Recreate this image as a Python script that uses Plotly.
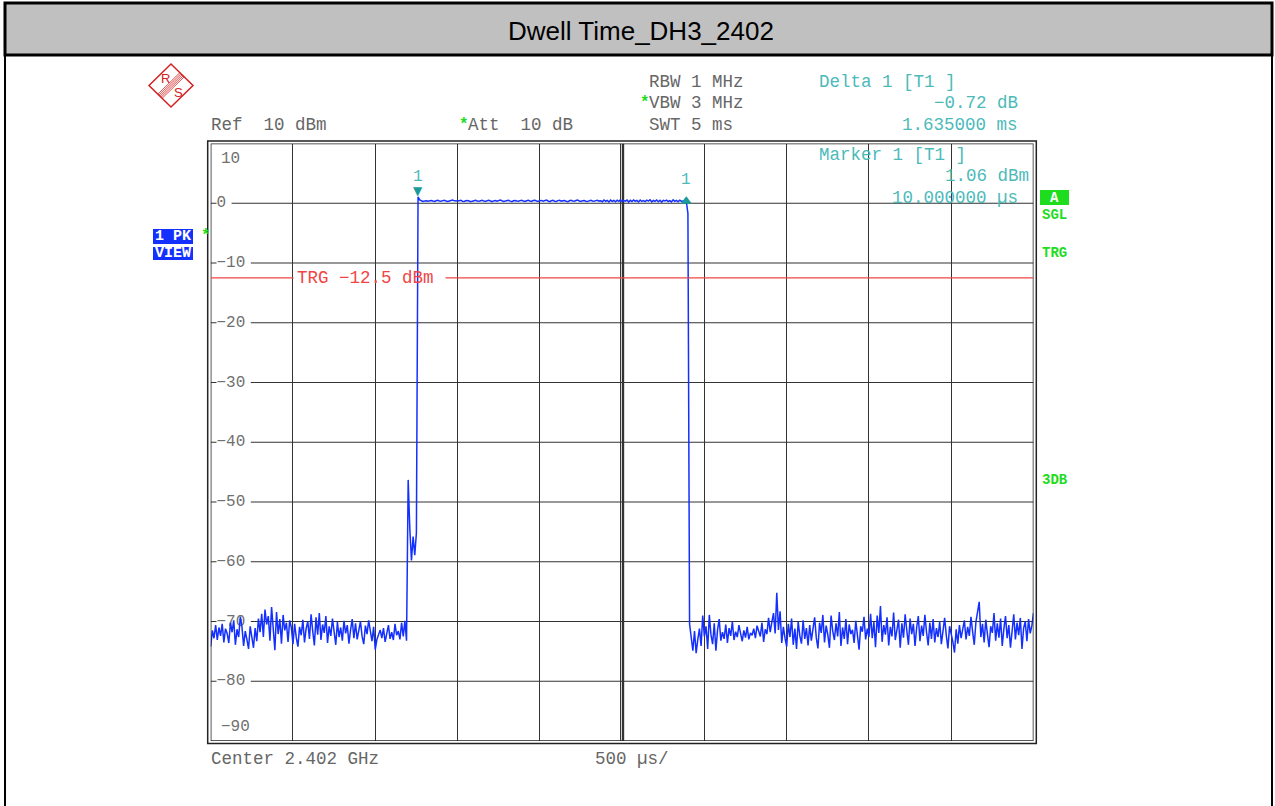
import numpy as np
import plotly.graph_objects as go

W, H = 1275, 806

# sweep settings (SWT 5 ms, 500 µs/div, 501 trace points)
sweep_ms = 5.0
n_points = 501

# trace values in dBm, left to right
noise_left = [
    -74.2, -71.5, -72.8, -70.6, -73.1, -71.0, -72.4, -70.4, -73.5, -71.2,
    -72.0, -73.6, -70.2, -71.8, -69.8, -73.9, -71.3, -72.6, -69.2, -70.9,
    -74.1, -71.6, -73.0, -74.6, -70.8, -72.9, -74.4, -71.1, -73.3, -69.5,
    -71.8, -68.7, -72.6, -68.0, -70.5, -69.1, -73.2, -67.6, -71.4, -74.8,
    -68.4, -72.1, -69.6, -73.7, -68.9, -71.5, -70.2, -73.4, -69.8, -71.0,
    -73.8, -70.4, -72.7, -74.2, -70.9, -72.3, -69.7, -73.5, -71.2, -70.0,
    -72.9, -68.8, -71.6, -74.0, -69.3, -72.2, -68.6, -73.1, -70.5, -71.9,
    -69.1, -73.6, -70.8, -72.4, -69.5, -71.3, -73.9, -70.1, -72.6, -71.0,
    -73.2, -69.9, -72.0, -70.6, -73.7, -71.4, -69.6, -72.8, -70.3, -73.0,
    -71.7, -70.0, -72.5, -73.8, -70.7, -72.1, -69.8, -71.5, -73.3, -70.9,
    -74.7, -73.0, -72.2, -71.4, -72.8, -71.1, -73.4, -72.0, -70.6, -72.9,
    -71.8, -73.1, -70.4, -72.3, -71.6, -73.0, -70.2, -72.5, -69.9, -73.2,
]
burst_edge = [-46.3, -54.5, -59.8, -55.8, -58.9, -55.2]
marker1_level = 1.06
pulse_top = [
    0.55, 0.38, 0.31, 0.36, 0.42, 0.33, 0.40, 0.45, 0.37, 0.30,
    0.41, 0.48, 0.39, 0.34, 0.44, 0.50, 0.36, 0.29, 0.38, 0.46,
    0.52, 0.40, 0.33, 0.37, 0.43, 0.49, 0.35, 0.30, 0.42, 0.47,
    0.38, 0.26, 0.35, 0.44, 0.51, 0.39, 0.32, 0.41, 0.48, 0.36,
    0.30, 0.43, 0.50, 0.37, 0.28, 0.40, 0.46, 0.34, 0.39, 0.53,
    0.41, 0.31, 0.36, 0.45, 0.49, 0.35, 0.27, 0.42, 0.47, 0.38,
    0.33, 0.44, 0.50, 0.36, 0.29, 0.41, 0.48, 0.39, 0.32, 0.45,
    0.51, 0.37, 0.30, 0.43, 0.47, 0.34, 0.40, 0.52, 0.38, 0.28,
    0.42, 0.49, 0.35, 0.31, 0.44, 0.50, 0.36, 0.40, 0.46, 0.33,
    0.27, 0.41, 0.48, 0.39, 0.34, 0.45, 0.53, 0.37, 0.30, 0.43,
    0.47, 0.35, 0.29, 0.40, 0.51, 0.38, 0.32, 0.44, 0.49, 0.36,
    0.41, 0.26, 0.55, 0.33, 0.48, 0.22, 0.52, 0.30, 0.46, 0.25,
    0.50, 0.31, 0.57, 0.24, 0.45, 0.35, 0.53, 0.20, 0.49, 0.28,
    0.56, 0.33, 0.47, 0.21, 0.54, 0.30, 0.44, 0.27, 0.51, 0.35,
    0.58, 0.23, 0.46, 0.32, 0.55, 0.26, 0.50, 0.19, 0.48, 0.37,
    0.53, 0.29, 0.45, 0.22, 0.57, 0.31, 0.49, 0.25, 0.52, 0.34,
    0.40, 0.36,
]
delta_level = 0.34
fall_edge = [-1.7]
noise_right = [
    -70.4, -72.8, -74.9, -71.6, -75.3, -73.0, -71.2, -74.1, -69.0, -72.5,
    -70.8, -74.6, -68.9, -72.2, -73.8, -70.3, -74.9, -71.4, -69.6, -73.2,
    -71.8, -72.9, -70.5, -73.6, -71.1, -72.4, -70.0, -73.1, -71.7, -72.6,
    -70.6, -72.0, -73.3, -71.5, -72.7, -70.9, -73.0, -71.9, -72.3, -71.2,
    -72.8, -70.7, -71.6, -72.5, -70.2, -73.4, -71.3, -72.1, -69.4, -71.8,
    -70.1, -68.6, -72.0, -65.2, -71.4, -68.3, -73.6, -70.9, -72.8, -74.2,
    -70.4, -72.6, -69.5, -73.9, -71.2, -74.6, -70.0, -72.4, -73.7, -69.8,
    -72.9, -71.1, -74.0, -70.6, -73.2, -71.5, -69.3, -72.7, -74.5, -70.2,
    -71.9, -68.9, -73.5, -70.7, -72.2, -74.4, -69.0, -71.6, -73.1, -70.3,
    -72.5, -68.4, -74.1, -71.0, -72.9, -69.6, -73.8, -70.5, -72.1, -71.4,
    -73.6, -69.9, -72.3, -74.7, -70.8, -71.7, -69.2, -73.0, -71.2, -72.6,
    -68.7, -72.8, -70.1, -74.3, -69.0, -71.9, -67.4, -73.4, -70.6, -72.2,
    -69.3, -74.0, -70.9, -72.5, -68.5, -73.1, -71.4, -69.7, -74.4, -70.3,
    -72.7, -68.8, -71.5, -73.9, -69.5, -72.1, -70.4, -74.1, -71.0, -69.1,
    -73.3, -70.7, -72.4, -68.9, -71.8, -74.0, -70.2, -72.9, -69.6, -73.5,
    -71.1, -72.6, -70.0, -73.8, -71.6, -69.4, -72.3, -74.5, -70.8, -72.0,
    -73.4, -75.2, -71.3, -73.7, -70.6, -72.8, -71.5, -69.8, -73.0, -70.9,
    -72.4, -69.2, -71.7, -73.9, -70.1, -68.3, -66.7, -72.6, -70.4, -73.5,
    -69.7, -72.1, -74.3, -70.8, -71.9, -68.6, -73.2, -70.3, -72.7, -69.5,
    -74.1, -71.2, -69.1, -72.8, -70.6, -74.4, -71.5, -68.8, -73.0, -70.2,
    -72.3, -69.4, -74.6, -71.1, -70.0, -73.3, -69.6, -72.0, -70.7, -68.6,
]

y_ticks = [10, 0, -10, -20, -30, -40, -50, -60, -70, -80, -90]
trg_level = -12.5

level = noise_left + burst_edge + [marker1_level] + pulse_top + [delta_level] + fall_edge + noise_right
t_ms = np.linspace(0, sweep_ms, n_points)
i_m1 = len(noise_left) + len(burst_edge)
i_d1 = i_m1 + 1 + len(pulse_top)

# pixel geometry of the screen copy
X0, X1 = 210.7, 1033.5
Y0, Y1 = 143.5, 741.0


def px(x):
    return x / W


def py(y):
    return 1 - y / H


def t_at(x):
    return (x - X0) / (X1 - X0) * sweep_ms


MONO = "Liberation Mono"
GREY = "#666666"
TEAL = "#4cbaba"
GREEN = "#1edc1e"
BLUE = "#1430ff"
RED = "#f04444"
GRID = "#333333"
LOGO = "#d42020"

fig = go.Figure()

# y tick labels (drawn under the trace)
inner = [v for v in y_ticks if v not in (10, -90)]
lab = lambda v: ("\u2212" + str(-v)) if v < 0 else str(v)
fig.add_trace(go.Scatter(
    x=[t_at(216.5)] * len(inner), y=inner, mode="text",
    text=[lab(v) for v in inner], textposition="middle right",
    textfont=dict(family=MONO, size=16, color="#707070"),
    hoverinfo="skip", showlegend=False))

fig.add_trace(go.Scatter(
    x=t_ms, y=level, mode="lines",
    line=dict(color=BLUE, width=1.5),
    hoverinfo="skip", showlegend=False))

# delta marker
fig.add_trace(go.Scatter(
    x=[t_ms[i_d1]], y=[level[i_d1]], mode="markers",
    marker=dict(symbol="triangle-up", size=10, color="#1a9a9a"),
    hoverinfo="skip", showlegend=False))

shapes = []
# title band and page frame
shapes.append(dict(type="rect", xref="paper", yref="paper", x0=px(5), x1=px(1272), y0=py(3), y1=py(55),
                   fillcolor="#c0c0c0", line=dict(color="black", width=3)))
for xx in (5, 1272):
    shapes.append(dict(type="line", xref="paper", yref="paper", x0=px(xx), x1=px(xx), y0=py(55), y1=py(820),
                       line=dict(color="black", width=2)))
# plot frame, double line
shapes.append(dict(type="rect", xref="x", yref="y", x0=0, x1=sweep_ms, y0=-90, y1=10,
                   line=dict(color="#222222", width=1.5)))
shapes.append(dict(type="rect", xref="paper", yref="paper", x0=px(207.7), x1=px(1036.3), y0=py(743.5), y1=py(141),
                   line=dict(color="#222222", width=1.5)))
# double centre line
for dx in (-0.009, 0.009):
    shapes.append(dict(type="line", xref="x", yref="y", x0=2.5 + dx, x1=2.5 + dx, y0=-90, y1=10,
                       line=dict(color=GRID, width=1.2), layer="below"))
# horizontal grid, broken where the level labels sit
for v in inner:
    shapes.append(dict(type="line", xref="x", yref="y", x0=0, x1=t_at(216.5), y0=v, y1=v,
                       line=dict(color=GRID, width=1.2), layer="below"))
    shapes.append(dict(type="line", xref="x", yref="y", x0=t_at(219 + len(lab(v)) * 9.6 + 3), x1=sweep_ms,
                       y0=v, y1=v, line=dict(color=GRID, width=1.2), layer="below"))
# trigger level line
shapes.append(dict(type="line", xref="x", yref="y", x0=0, x1=t_at(293.5), y0=trg_level, y1=trg_level,
                   line=dict(color=RED, width=1.2)))
shapes.append(dict(type="line", xref="x", yref="y", x0=t_at(445.5), x1=sweep_ms, y0=trg_level, y1=trg_level,
                   line=dict(color=RED, width=1.2)))

# R&S logo
cx, cy = 171, 85.5
shapes.append(dict(type="path", xref="paper", yref="paper",
                   path="M {},{} L {},{} L {},{} L {},{} Z".format(px(149), py(cy), px(cx), py(64),
                                                                 px(193), py(cy), px(cx), py(107)),
                   line=dict(color=LOGO, width=1.5)))
for d in (-3, -1.5, 0, 1.5, 3):
    o = d / 1.414
    shapes.append(dict(type="line", xref="paper", yref="paper",
                       x0=px(160 + o), y0=py(96.2 + o), x1=px(182 + o), y1=py(74.8 + o),
                       line=dict(color=LOGO, width=0.8)))

ann = []


def txt(s, x, y, color=GREY, size=17.5, anchor="left", bold=False, family=MONO, **kw):
    if bold:
        s = "<b>" + s + "</b>"
    ann.append(dict(text=s, x=px(x), y=py(y), xref="paper", yref="paper", xanchor=anchor, yanchor="middle",
                    showarrow=False, borderpad=0, borderwidth=0,
                    font=dict(family=family, size=size, color=color), **kw))


txt("Dwell Time_DH3_2402", 641, 31, color="black", size=26, anchor="center", family="Liberation Sans")
txt("R", 165.5, 79, color=LOGO, size=13, anchor="center", family="Liberation Sans")
txt("S", 178.5, 92.5, color=LOGO, size=13, anchor="center", family="Liberation Sans")

txt("RBW 1 MHz", 649, 82)
txt("VBW 3 MHz", 649, 103)
txt("SWT 5 ms", 649, 125)
txt("*", 640, 103, color=GREEN, size=16, bold=True)
txt("Ref  10 dBm", 211, 125)
txt("Att  10 dB", 468, 125)
txt("*", 459, 125, color=GREEN, size=16, bold=True)

txt("Delta 1 [T1 ]", 819, 82, color=TEAL)
txt("\u22120.72 dB", 1018, 103, color=TEAL, anchor="right")
txt("1.635000 ms", 1018, 125, color=TEAL, anchor="right")
txt("Marker 1 [T1 ]", 819, 155, color=TEAL)
txt("1.06 dBm", 1029, 176, color=TEAL, anchor="right")
txt("10.000000 \u00b5s", 1018, 198, color=TEAL, anchor="right")

txt("TRG \u221212.5 dBm", 296.5, 278, color=RED)
txt("Center 2.402 GHz", 211, 759)
txt("500 \u00b5s/", 595, 759)

txt("1 PK", 173, 236.5, color="white", size=15, anchor="center", bold=True,
    bgcolor=BLUE, width=40, height=15)
txt("VIEW", 173, 254, color="white", size=15, anchor="center", bold=True,
    bgcolor=BLUE, width=40, height=13)
txt("*", 201, 236, color=GREEN, size=16, bold=True)
txt("A", 1054.5, 197, color="white", size=14, anchor="center", bold=True,
    bgcolor=GREEN, width=29, height=15)
txt("SGL", 1042, 215, color=GREEN, size=14, bold=True)
txt("TRG", 1042, 253, color=GREEN, size=14, bold=True)
txt("3DB", 1042, 480, color=GREEN, size=14, bold=True)

# level labels on the frame lines
ann.append(dict(text="10", x=t_at(219), y=10, xref="x", yref="y", xanchor="left", yanchor="top", yshift=-4,
                showarrow=False, font=dict(family=MONO, size=16, color="#707070")))
ann.append(dict(text="\u221290", x=t_at(219), y=-90, xref="x", yref="y", xanchor="left", yanchor="bottom",
                yshift=3, showarrow=False, font=dict(family=MONO, size=16, color="#707070")))

# marker symbols and numbers
ann.append(dict(text="\u25bc", x=t_ms[i_m1], y=level[i_m1], xref="x", yref="y", yanchor="bottom", yshift=-3,
                showarrow=False, font=dict(family="DejaVu Sans", size=12, color="#1a9a9a")))
for i, dy in ((i_m1, 20), (i_d1, 21)):
    ann.append(dict(text="1", x=t_ms[i], y=level[i], xref="x", yref="y", yanchor="middle", yshift=dy,
                    showarrow=False, font=dict(family=MONO, size=16, color=TEAL)))

fig.update_layout(
    width=W, height=H, autosize=False,
    margin=dict(l=0, r=0, t=0, b=0),
    paper_bgcolor="white", plot_bgcolor="white",
    showlegend=False,
    xaxis=dict(domain=[X0 / W, X1 / W], range=[0, sweep_ms], showgrid=True, dtick=0.5, tick0=0,
               gridcolor=GRID, gridwidth=1.2, zeroline=False, showticklabels=False, ticks="", fixedrange=True),
    yaxis=dict(domain=[py(Y1), py(Y0)], range=[-90, 10], showgrid=False, zeroline=False,
               showticklabels=False, ticks="", fixedrange=True),
    shapes=shapes,
    annotations=ann,
)

# page body margin off so the figure sits at the window corner
fig.write_html("out.html", config={"displayModeBar": False},
               post_script="document.body.style.margin='0px';")
